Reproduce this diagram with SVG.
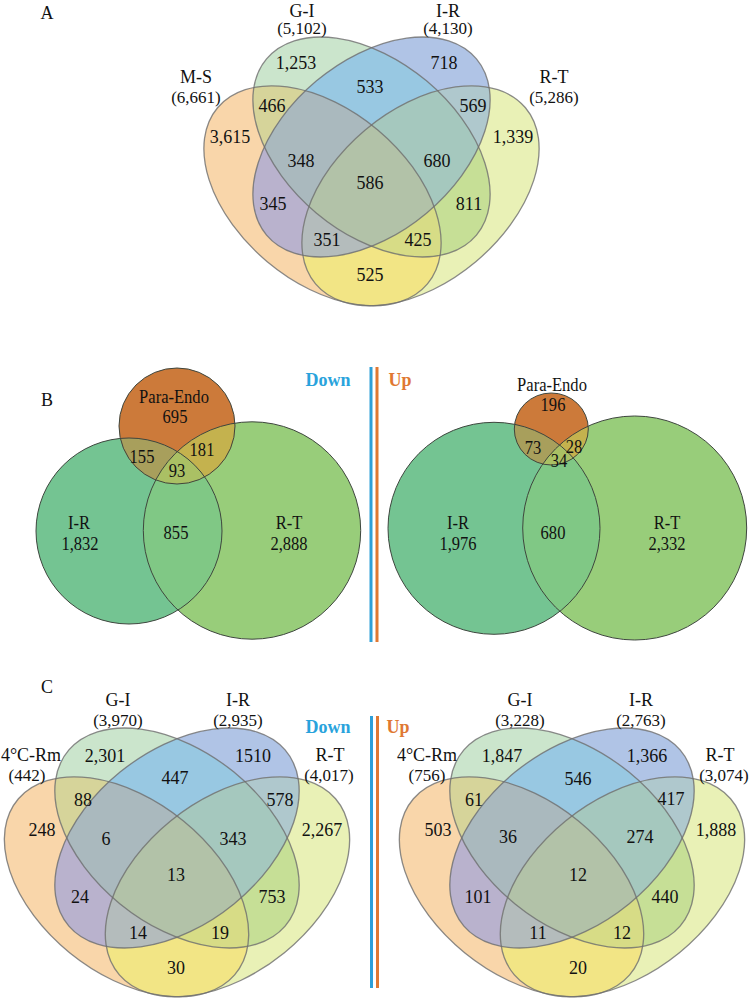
<svg xmlns="http://www.w3.org/2000/svg" xmlns:xlink="http://www.w3.org/1999/xlink" width="749" height="1002" viewBox="0 0 749 1002">
<style>
.bg{fill:#ffffff}
.t{font-family:"Liberation Serif","Times New Roman",serif;font-size:18px;text-anchor:middle;fill:#111}
.c{font-size:17px}
.bt{font-size:18px}
.dn{font-weight:bold;fill:#29a3dc}
.up{font-weight:bold;fill:#e07832}
.st{fill:none;stroke:#6e6e6e;stroke-opacity:0.8;stroke-width:1.3}
.r-m{fill:#f9d6aa}
.r-g{fill:#cbe5cc}
.r-i{fill:#b0c4e6}
.r-r{fill:#e9f1b6}
.r-mg{fill:#d6d49a}
.r-mi{fill:#b9b2cd}
.r-mr{fill:#f2e585}
.r-gi{fill:#98c8e2}
.r-gr{fill:#c6df96}
.r-ir{fill:#afc8cd}
.r-mgi{fill:#aab9be}
.r-mgr{fill:#d7dc86}
.r-mir{fill:#b4bcbc}
.r-gir{fill:#a5c8be}
.r-all{fill:#b2c2a8}
.bo{fill:none;stroke:#3e463e;stroke-width:1}
.pe{fill:#cc7a3a}
.bir{fill:#74c492}
.brt{fill:#98cd7a}
.irrt{fill:#80c885}
.peir{fill:#a89f5c}
.pert{fill:#c4b24e}
.all3{fill:#aac064}
.lb{stroke:#2e9fd8;stroke-width:3}
.lo{stroke:#e07832;stroke-width:3}
</style>
<defs>
<ellipse id="eM" cx="-49" cy="195.8" rx="137" ry="86" transform="rotate(40 -49 195.8)"/>
<ellipse id="eG" cx="0" cy="147" rx="137" ry="86" transform="rotate(40 0 147)"/>
<ellipse id="eI" cx="0" cy="147" rx="137" ry="86" transform="rotate(-40 0 147)"/>
<ellipse id="eR" cx="49" cy="195.8" rx="137" ry="86" transform="rotate(-40 49 195.8)"/>
<clipPath id="kM"><use xlink:href="#eM"/></clipPath>
<clipPath id="kG"><use xlink:href="#eG"/></clipPath>
<clipPath id="kI"><use xlink:href="#eI"/></clipPath>
<clipPath id="kR"><use xlink:href="#eR"/></clipPath>
<g id="venn4">
<use xlink:href="#eM" class="r-m"/>
<use xlink:href="#eG" class="r-g"/>
<use xlink:href="#eI" class="r-i"/>
<use xlink:href="#eR" class="r-r"/>
<g clip-path="url(#kM)"><use xlink:href="#eG" class="r-mg"/></g>
<g clip-path="url(#kM)"><use xlink:href="#eI" class="r-mi"/></g>
<g clip-path="url(#kM)"><use xlink:href="#eR" class="r-mr"/></g>
<g clip-path="url(#kG)"><use xlink:href="#eI" class="r-gi"/></g>
<g clip-path="url(#kG)"><use xlink:href="#eR" class="r-gr"/></g>
<g clip-path="url(#kI)"><use xlink:href="#eR" class="r-ir"/></g>
<g clip-path="url(#kM)"><g clip-path="url(#kG)"><use xlink:href="#eI" class="r-mgi"/></g></g>
<g clip-path="url(#kM)"><g clip-path="url(#kG)"><use xlink:href="#eR" class="r-mgr"/></g></g>
<g clip-path="url(#kM)"><g clip-path="url(#kI)"><use xlink:href="#eR" class="r-mir"/></g></g>
<g clip-path="url(#kG)"><g clip-path="url(#kI)"><use xlink:href="#eR" class="r-gir"/></g></g>
<g clip-path="url(#kM)"><g clip-path="url(#kG)"><g clip-path="url(#kI)"><use xlink:href="#eR" class="r-all"/></g></g></g>
<use xlink:href="#eM" class="st"/>
<use xlink:href="#eR" class="st"/>
<use xlink:href="#eG" class="st"/>
<use xlink:href="#eI" class="st"/>
</g>
<clipPath id="cL-ir"><circle cx="129" cy="531" r="93"/></clipPath>
<clipPath id="cL-rt"><circle cx="252" cy="530.5" r="108.7"/></clipPath>
<clipPath id="cR-ir"><circle cx="494" cy="528.3" r="106"/></clipPath>
<clipPath id="cR-rt"><circle cx="634.7" cy="528" r="112"/></clipPath>
</defs>
<rect class="bg" x="0" y="0" width="749" height="1002"/>

<!-- Panel A -->
<g id="panelA">
<use id="A-venn" xlink:href="#venn4" transform="translate(371.5,0)"/>
<text class="t" x="47" y="19">A</text>
<text class="t" x="302" y="17">G-I</text>
<text class="t c" x="302" y="34">(5,102)</text>
<text class="t" x="448" y="17">I-R</text>
<text class="t c" x="448" y="34">(4,130)</text>
<text class="t" x="196" y="83">M-S</text>
<text class="t c" x="196" y="103">(6,661)</text>
<text class="t" x="554" y="83">R-T</text>
<text class="t c" x="554" y="103">(5,286)</text>
<text class="t" x="296" y="69">1,253</text>
<text class="t" x="444" y="69">718</text>
<text class="t" x="370" y="93">533</text>
<text class="t" x="272" y="112">466</text>
<text class="t" x="473" y="112">569</text>
<text class="t" x="230" y="143">3,615</text>
<text class="t" x="513" y="143">1,339</text>
<text class="t" x="301" y="167">348</text>
<text class="t" x="437" y="167">680</text>
<text class="t" x="370" y="189">586</text>
<text class="t" x="273" y="210">345</text>
<text class="t" x="469" y="210">811</text>
<text class="t" x="327" y="246">351</text>
<text class="t" x="418" y="246">425</text>
<text class="t" x="370" y="281">525</text>
</g>

<!-- Panel B -->
<g id="panelB">
<text class="t" x="47" y="406">B</text>
<g id="B-left">
<circle class="bir" cx="129" cy="531" r="93"/>
<circle class="brt" cx="252" cy="530.5" r="108.7"/>
<circle class="pe" cx="177" cy="426" r="58"/>
<g clip-path="url(#cL-ir)"><circle class="irrt" cx="252" cy="530.5" r="108.7"/><circle class="peir" cx="177" cy="426" r="58"/></g>
<g clip-path="url(#cL-rt)"><circle class="pert" cx="177" cy="426" r="58"/></g>
<g clip-path="url(#cL-ir)"><g clip-path="url(#cL-rt)"><circle class="all3" cx="177" cy="426" r="58"/></g></g>
<circle class="bo" cx="129" cy="531" r="93"/>
<circle class="bo" cx="252" cy="530.5" r="108.7"/>
<circle class="bo" cx="177" cy="426" r="58"/>
<text class="t bt" transform="translate(174,403) scale(0.92,1)">Para-Endo</text>
<text class="t bt" transform="translate(175,423) scale(0.92,1)">695</text>
<text class="t bt" transform="translate(142,463) scale(0.92,1)">155</text>
<text class="t bt" transform="translate(202,456) scale(0.92,1)">181</text>
<text class="t bt" transform="translate(177,477) scale(0.92,1)">93</text>
<text class="t bt" transform="translate(79,529) scale(0.92,1)">I-R</text>
<text class="t bt" transform="translate(80,550) scale(0.92,1)">1,832</text>
<text class="t bt" transform="translate(176,539) scale(0.92,1)">855</text>
<text class="t bt" transform="translate(289,529) scale(0.92,1)">R-T</text>
<text class="t bt" transform="translate(289,550) scale(0.92,1)">2,888</text>
</g>
<text class="t dn" x="328" y="386">Down</text>
<line class="lb" x1="371" y1="367" x2="371" y2="642"/>
<line class="lo" x1="377" y1="367" x2="377" y2="642"/>
<text class="t up" x="400" y="386">Up</text>
<g id="B-right">
<circle class="bir" cx="494" cy="528.3" r="106"/>
<circle class="brt" cx="634.7" cy="528" r="112"/>
<ellipse class="pe" cx="551.3" cy="429" rx="37" ry="36"/>
<g clip-path="url(#cR-ir)"><circle class="irrt" cx="634.7" cy="528" r="112"/><ellipse class="peir" cx="551.3" cy="429" rx="37" ry="36"/></g>
<g clip-path="url(#cR-rt)"><ellipse class="pert" cx="551.3" cy="429" rx="37" ry="36"/></g>
<g clip-path="url(#cR-ir)"><g clip-path="url(#cR-rt)"><ellipse class="all3" cx="551.3" cy="429" rx="37" ry="36"/></g></g>
<circle class="bo" cx="494" cy="528.3" r="106"/>
<circle class="bo" cx="634.7" cy="528" r="112"/>
<ellipse class="bo" cx="551.3" cy="429" rx="37" ry="36"/>
<text class="t bt" transform="translate(552,391) scale(0.92,1)">Para-Endo</text>
<text class="t bt" transform="translate(553,411) scale(0.92,1)">196</text>
<text class="t bt" transform="translate(533,454) scale(0.92,1)">73</text>
<text class="t bt" transform="translate(574,453) scale(0.92,1)">28</text>
<text class="t bt" transform="translate(559,467) scale(0.92,1)">34</text>
<text class="t bt" transform="translate(458,529) scale(0.92,1)">I-R</text>
<text class="t bt" transform="translate(458,550) scale(0.92,1)">1,976</text>
<text class="t bt" transform="translate(553,539) scale(0.92,1)">680</text>
<text class="t bt" transform="translate(667,529) scale(0.92,1)">R-T</text>
<text class="t bt" transform="translate(667,550) scale(0.92,1)">2,332</text>
</g>
</g>

<!-- Panel C -->
<g id="panelC">
<text class="t" x="47" y="693">C</text>
<g id="C-left">
<use id="C-left-venn" xlink:href="#venn4" transform="translate(177,691) scale(1.03,1)"/>
<text class="t" x="118" y="706">G-I</text>
<text class="t c" x="118" y="726">(3,970)</text>
<text class="t" x="238" y="706">I-R</text>
<text class="t c" x="238" y="726">(2,935)</text>
<text class="t" x="31" y="761">4°C-Rm</text>
<text class="t c" x="27" y="781">(442)</text>
<text class="t" x="330" y="761">R-T</text>
<text class="t c" x="329" y="781">(4,017)</text>
<text class="t" x="105" y="762">2,301</text>
<text class="t" x="253" y="762">1510</text>
<text class="t" x="175" y="784">447</text>
<text class="t" x="83" y="806">88</text>
<text class="t" x="280" y="806">578</text>
<text class="t" x="42" y="836">248</text>
<text class="t" x="322" y="836">2,267</text>
<text class="t" x="106" y="845">6</text>
<text class="t" x="233" y="845">343</text>
<text class="t" x="176" y="881">13</text>
<text class="t" x="80" y="903">24</text>
<text class="t" x="272" y="903">753</text>
<text class="t" x="138" y="939">14</text>
<text class="t" x="220" y="939">19</text>
<text class="t" x="176" y="974">30</text>
</g>
<text class="t dn" x="328" y="733">Down</text>
<line class="lb" x1="371.5" y1="716" x2="371.5" y2="988"/>
<line class="lo" x1="377.5" y1="716" x2="377.5" y2="988"/>
<text class="t up" x="398" y="733">Up</text>
<g id="C-right">
<use id="C-right-venn" xlink:href="#venn4" transform="translate(572,691) scale(1.03,1)"/>
<text class="t" x="520" y="706">G-I</text>
<text class="t c" x="520" y="726">(3,228)</text>
<text class="t" x="641" y="706">I-R</text>
<text class="t c" x="641" y="726">(2,763)</text>
<text class="t" x="427" y="761">4°C-Rm</text>
<text class="t c" x="427" y="781">(756)</text>
<text class="t" x="720" y="761">R-T</text>
<text class="t c" x="724" y="781">(3,074)</text>
<text class="t" x="502" y="762">1,847</text>
<text class="t" x="647" y="762">1,366</text>
<text class="t" x="578" y="785">546</text>
<text class="t" x="474" y="806">61</text>
<text class="t" x="671" y="805">417</text>
<text class="t" x="438" y="836">503</text>
<text class="t" x="716" y="836">1,888</text>
<text class="t" x="508" y="843">36</text>
<text class="t" x="640" y="843">274</text>
<text class="t" x="578" y="881">12</text>
<text class="t" x="478" y="903">101</text>
<text class="t" x="665" y="903">440</text>
<text class="t" x="538" y="939">11</text>
<text class="t" x="622" y="939">12</text>
<text class="t" x="578" y="974">20</text>
</g>
</g>
</svg>
